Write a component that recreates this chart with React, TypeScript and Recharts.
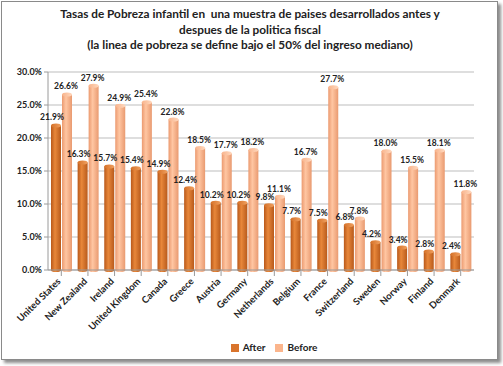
import { Bar, BarChart, CartesianGrid, LabelList, Legend, XAxis, YAxis } from "recharts";

const countries = [
  "United States", "New Zealand", "Ireland", "United Kingdom", "Canada", "Greece",
  "Austria", "Germany", "Netherlands", "Belgium", "France", "Switzerland",
  "Sweden", "Norway", "Finland", "Denmark",
];
const after = [21.9, 16.3, 15.7, 15.4, 14.9, 12.4, 10.2, 10.2, 9.8, 7.7, 7.5, 6.8, 4.2, 3.4, 2.8, 2.4];
const before = [26.6, 27.9, 24.9, 25.4, 22.8, 18.5, 17.7, 18.2, 11.1, 16.7, 27.7, 7.8, 18.0, 15.5, 18.1, 11.8];
const yTicks = [0, 5, 10, 15, 20, 25, 30];
const titleLines = [
  "Tasas de Pobreza infantil en  una muestra de paises desarrollados antes y",
  "despues de la politica fiscal",
  "(la linea de pobreza se define bajo el 50% del ingreso mediano)",
];

const rows = countries.map((c, i) => ({ country: c, After: after[i], Before: before[i] }));

const FONT = "Lato, 'Open Sans', sans-serif";
const pct = (v: number) => `${v.toFixed(1)}%`;

// cylinder bar, gradient across the width
const Cylinder = (props: any) => {
  const { x, y, width, height, gid } = props;
  if (height <= 0) return null;
  const ry = 2;
  return (
    <g>
      <path
        d={`M${x},${y} L${x},${y + height} A${width / 2},${ry} 0 0 0 ${x + width},${y + height} L${x + width},${y} Z`}
        fill={`url(#${gid})`}
      />
      <ellipse cx={x + width / 2} cy={y} rx={width / 2} ry={ry} fill={`url(#${gid}Top)`} />
    </g>
  );
};

const XTick = ({ x, y, payload }: any) => (
  <text
    x={x}
    y={y + 4}
    transform={`rotate(-45 ${x} ${y + 4})`}
    textAnchor="end"
    fontFamily={FONT}
    fontWeight={700}
    fontSize={9.5}
    fill="#222"
  >
    {payload.value}
  </text>
);

export default function App() {
  return (
    <div style={{ position: "absolute", left: 0, top: 0, width: 503, height: 366, background: "#fff" }}>
      <div
        style={{
          position: "absolute",
          left: 1,
          top: 1,
          width: 495,
          height: 357,
          border: "1px solid #8a8a8a",
          boxShadow: "3px 3px 3px rgba(0,0,0,0.45)",
          background: "#fff",
        }}
      />
      <div
        style={{
          position: "absolute",
          left: 0,
          top: 6,
          width: 500,
          textAlign: "center",
          fontFamily: FONT,
          fontWeight: 700,
          fontSize: 11.8,
          lineHeight: "15.5px",
          color: "#222",
        }}
      >
        {titleLines.map((t) => (
          <div key={t} style={{ whiteSpace: "pre" }}>{t}</div>
        ))}
      </div>
      <div style={{ position: "absolute", left: 0, top: 0 }}>
        <BarChart
          width={503}
          height={366}
          data={rows}
          margin={{ top: 72, right: 29, left: 0, bottom: 12 }}
          barSize={10}
          barGap={1}
        >
          <defs>
            <linearGradient id="gA" x1="0" y1="0" x2="1" y2="0">
              <stop offset="0" stopColor="#b8581a" />
              <stop offset="0.4" stopColor="#e8873a" />
              <stop offset="1" stopColor="#b85a1c" />
            </linearGradient>
            <linearGradient id="gATop" x1="0" y1="0" x2="1" y2="0">
              <stop offset="0" stopColor="#d57128" />
              <stop offset="1" stopColor="#f0a060" />
            </linearGradient>
            <linearGradient id="gB" x1="0" y1="0" x2="1" y2="0">
              <stop offset="0" stopColor="#eb9a70" />
              <stop offset="0.4" stopColor="#ffc6a2" />
              <stop offset="1" stopColor="#e99a70" />
            </linearGradient>
            <linearGradient id="gBTop" x1="0" y1="0" x2="1" y2="0">
              <stop offset="0" stopColor="#f8b48c" />
              <stop offset="1" stopColor="#ffd8be" />
            </linearGradient>
          </defs>
          <CartesianGrid vertical={false} stroke="#bdbdbd" />
          <XAxis
            dataKey="country"
            interval={0}
            height={70}
            tick={<XTick />}
            axisLine={{ stroke: "#9a9a9a" }}
            tickLine={{ stroke: "#9a9a9a" }}
          />
          <YAxis
            domain={[0, 30]}
            ticks={yTicks}
            width={48}
            tickFormatter={pct}
            tick={{ fontFamily: FONT, fontWeight: 700, fontSize: 9, fill: "#222" }}
            axisLine={{ stroke: "#9a9a9a" }}
            tickLine={{ stroke: "#9a9a9a" }}
            tickSize={4}
          />
          <Legend
            verticalAlign="bottom"
            iconType="square"
            iconSize={8}
            wrapperStyle={{ fontFamily: FONT, fontWeight: 700, fontSize: 10, lineHeight: "14px", paddingLeft: 42 }}
            formatter={(v: string) => <span style={{ color: "#222" }}>{v}</span>}
          />
          <Bar dataKey="After" fill="#d9742c" isAnimationActive={false} shape={<Cylinder gid="gA" />}>
            <LabelList
              dataKey="After"
              position="top"
              dx={-4}
              formatter={(v: any) => pct(Number(v))}
              style={{ fontFamily: FONT, fontWeight: 700, fontSize: 8.5, fill: "#222" }}
            />
          </Bar>
          <Bar dataKey="Before" fill="#fbb58c" isAnimationActive={false} shape={<Cylinder gid="gB" />}>
            <LabelList
              dataKey="Before"
              position="top"
              dx={-1}
              formatter={(v: any) => pct(Number(v))}
              style={{ fontFamily: FONT, fontWeight: 700, fontSize: 8.5, fill: "#222" }}
            />
          </Bar>
        </BarChart>
      </div>
    </div>
  );
}
